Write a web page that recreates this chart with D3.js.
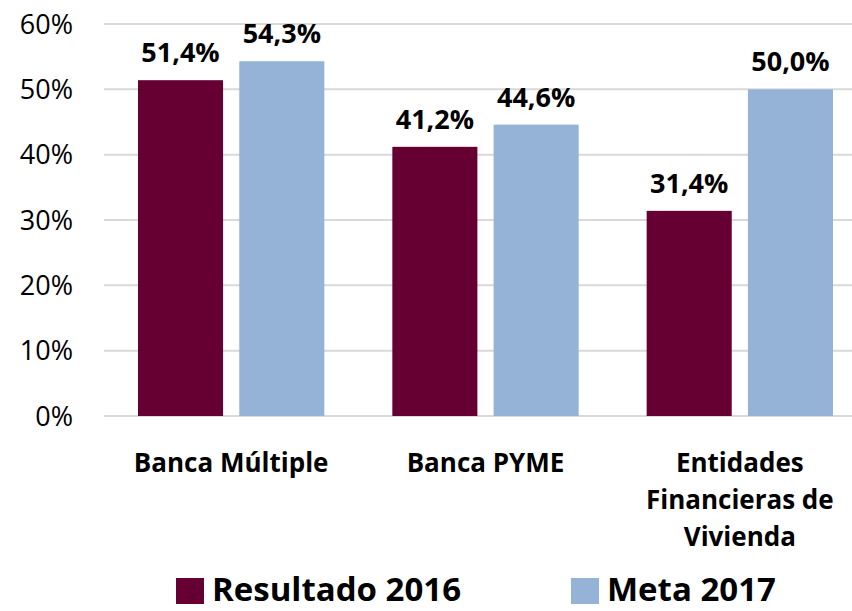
<!DOCTYPE html>
<html>
<head>
<meta charset="utf-8">
<script src="https://cdn.jsdelivr.net/npm/d3@7"></script>
<style>
  body { margin: 0; background: #fff; }
  svg { display: block; font-family: "Open Sans", "Noto Sans", sans-serif; }
</style>
</head>
<body>
<div id="chart"></div>
<script>
const categories = ['Banca Múltiple', 'Banca PYME', 'Entidades Financieras de Vivienda'];
const categoryLines = [['Banca Múltiple'], ['Banca PYME'], ['Entidades', 'Financieras de', 'Vivienda']];
const seriesNames = ['Resultado 2016', 'Meta 2017'];
const resultado2016 = [51.4, 41.2, 31.4];
const meta2017 = [54.3, 44.6, 50.0];
const yTicks = [0, 10, 20, 30, 40, 50, 60];
const colors = ['#660033', '#95B3D7'];

const width = 852, height = 611;
const svg = d3.select('#chart')
    .append('svg')
    .attr('width', width)
    .attr('height', height);

// Scales
const x = d3.scaleBand()
    .domain(categories)
    .range([104, 867])
    .paddingInner(0)
    .paddingOuter(0);

const x1 = d3.scaleBand()
    .domain(seriesNames)
    .range([34, x.bandwidth() - 34])
    .paddingInner(0.16);

const y = d3.scaleLinear()
    .domain([0, 60])
    .range([416, 24]);

// Gridlines
svg.append('g')
    .selectAll('line')
    .data(yTicks)
    .join('line')
    .attr('x1', 104)
    .attr('x2', width)
    .attr('y1', d => y(d))
    .attr('y2', d => y(d))
    .attr('stroke', '#d9d9d9')
    .attr('stroke-width', 2);

// Y axis labels
svg.append('g')
    .selectAll('text')
    .data(yTicks)
    .join('text')
    .attr('x', 73)
    .attr('y', d => y(d))
    .attr('dy', '0.36em')
    .attr('text-anchor', 'end')
    .attr('font-size', 27)
    .attr('fill', '#000')
    .text(d => d + '%');

// Bars
const series = [resultado2016, meta2017];
const groups = svg.append('g')
    .selectAll('g')
    .data(categories)
    .join('g')
    .attr('transform', d => `translate(${x(d)},0)`);

groups.selectAll('rect')
    .data((d, i) => series.map((s, j) => ({ name: seriesNames[j], value: s[i], color: colors[j] })))
    .join('rect')
    .attr('x', d => x1(d.name))
    .attr('y', d => y(d.value))
    .attr('width', x1.bandwidth())
    .attr('height', d => y(0) - y(d.value))
    .attr('fill', d => d.color);

groups.selectAll('text.value')
    .data((d, i) => series.map((s, j) => ({ name: seriesNames[j], value: s[i] })))
    .join('text')
    .attr('class', 'value')
    .attr('x', d => x1(d.name) + x1.bandwidth() / 2)
    .attr('y', d => y(d.value) - 18)
    .attr('text-anchor', 'middle')
    .attr('font-size', 27)
    .attr('font-weight', 'bold')
    .attr('fill', '#000')
    .text(d => d.value.toFixed(1).replace('.', ',') + '%');

// Category labels
svg.append('g')
    .selectAll('text')
    .data(categories)
    .join('text')
    .attr('y', 472)
    .attr('text-anchor', 'middle')
    .attr('font-size', 26)
    .attr('font-weight', 'bold')
    .attr('fill', '#000')
    .each(function(d, i) {
        d3.select(this).selectAll('tspan')
            .data(categoryLines[i])
            .join('tspan')
            .attr('x', x(d) + 34 + (x.bandwidth() - 68) / 2)
            .attr('dy', (l, k) => k === 0 ? 0 : 37)
            .text(l => l);
    });

// Legend
const legend = svg.append('g');
const legendItems = [
    { name: seriesNames[0], color: colors[0], x: 176 },
    { name: seriesNames[1], color: colors[1], x: 571 }
];
legend.selectAll('rect')
    .data(legendItems)
    .join('rect')
    .attr('x', d => d.x)
    .attr('y', 578)
    .attr('width', 28)
    .attr('height', 26)
    .attr('fill', d => d.color);
legend.selectAll('text')
    .data(legendItems)
    .join('text')
    .attr('x', d => d.x + 36)
    .attr('y', 601)
    .attr('font-size', 33)
    .attr('font-weight', 'bold')
    .attr('fill', '#000')
    .text(d => d.name);
</script>
</body>
</html>
